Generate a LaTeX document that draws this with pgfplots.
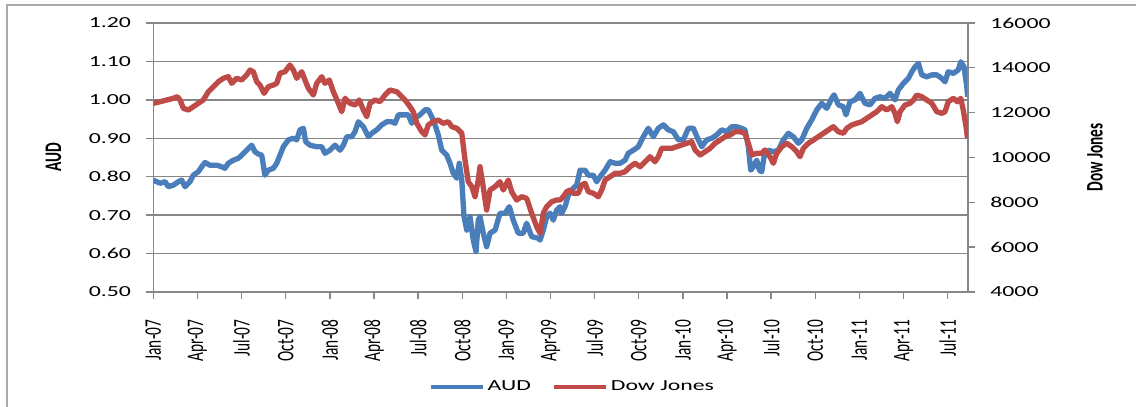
\documentclass[border=0pt]{standalone}
\usepackage{pgfplots}
\pgfplotsset{compat=1.18}
\usepackage{pgfplotstable}
\usepackage{fontspec}
\setmainfont{Carlito}[FakeStretch=1.55]
\newfontfamily\rotfont{Carlito}
\definecolor{audblue}{RGB}{74,126,187}
\definecolor{dowred}{RGB}{190,75,72}
\definecolor{gridgray}{RGB}{134,134,134}
\definecolor{framegray}{RGB}{170,170,170}

\pgfplotstableread{
m v
0.00 0.791
0.46 0.783
0.80 0.787
1.02 0.774
1.36 0.778
1.70 0.787
1.93 0.791
2.16 0.774
2.49 0.787
2.72 0.804
3.06 0.813
3.29 0.826
3.51 0.837
3.85 0.830
4.31 0.830
4.65 0.826
4.87 0.822
5.10 0.835
5.44 0.843
5.78 0.848
6.01 0.856
6.35 0.869
6.69 0.882
6.91 0.865
7.14 0.859
7.37 0.856
7.59 0.804
7.82 0.817
8.16 0.822
8.39 0.835
8.61 0.856
8.84 0.878
9.18 0.896
9.52 0.900
9.75 0.896
9.97 0.922
10.20 0.926
10.36 0.891
10.65 0.882
11.11 0.878
11.45 0.878
11.67 0.861
12.01 0.869
12.35 0.882
12.69 0.869
12.92 0.882
13.15 0.904
13.49 0.904
13.71 0.917
13.94 0.943
14.28 0.930
14.62 0.904
14.85 0.913
15.19 0.922
15.53 0.935
15.87 0.943
16.21 0.943
16.43 0.939
16.66 0.961
17.00 0.961
17.34 0.961
17.57 0.939
17.79 0.952
18.13 0.961
18.47 0.974
18.69 0.974
18.93 0.956
19.15 0.935
19.37 0.909
19.61 0.869
19.95 0.856
20.17 0.835
20.39 0.809
20.63 0.796
20.80 0.835
20.97 0.791
21.12 0.696
21.31 0.661
21.53 0.696
21.75 0.635
21.94 0.605
22.09 0.687
22.21 0.696
22.43 0.653
22.66 0.618
22.89 0.653
23.23 0.661
23.57 0.705
23.91 0.705
24.20 0.722
24.47 0.687
24.81 0.653
25.15 0.653
25.38 0.679
25.72 0.644
26.17 0.640
26.29 0.635
26.51 0.661
26.74 0.696
26.97 0.705
27.19 0.687
27.42 0.713
27.65 0.722
27.76 0.705
27.99 0.722
28.21 0.752
28.55 0.770
28.78 0.778
29.01 0.817
29.35 0.817
29.57 0.804
29.91 0.804
30.14 0.787
30.37 0.800
30.71 0.817
31.05 0.839
31.39 0.835
31.73 0.835
32.07 0.843
32.29 0.861
32.63 0.869
32.97 0.878
33.31 0.904
33.65 0.926
33.99 0.904
34.33 0.926
34.67 0.935
35.01 0.922
35.35 0.917
35.69 0.896
36.03 0.896
36.37 0.926
36.71 0.926
37.05 0.896
37.28 0.878
37.62 0.896
37.96 0.900
38.30 0.909
38.64 0.922
38.98 0.917
39.32 0.930
39.66 0.930
40.00 0.926
40.22 0.922
40.45 0.878
40.61 0.817
40.79 0.826
41.02 0.843
41.20 0.817
41.36 0.813
41.52 0.852
41.81 0.869
42.15 0.865
42.49 0.869
42.83 0.896
43.17 0.913
43.51 0.904
43.85 0.887
44.08 0.896
44.42 0.926
44.76 0.948
45.10 0.974
45.44 0.991
45.78 0.978
46.12 1.004
46.28 1.013
46.57 0.987
46.91 0.982
47.09 0.961
47.36 0.995
47.70 1.000
48.04 1.017
48.38 0.991
48.72 0.987
49.06 1.004
49.40 1.008
49.74 1.004
50.08 1.017
50.42 1.000
50.65 1.026
50.99 1.043
51.33 1.056
51.56 1.073
51.78 1.086
52.01 1.095
52.24 1.065
52.58 1.060
52.92 1.065
53.26 1.065
53.60 1.056
53.82 1.047
54.04 1.073
54.39 1.069
54.72 1.078
54.89 1.099
55.11 1.086
55.30 1.034
55.36 1.008
}\audtable

\pgfplotstableread{
m v
0.00 12418
0.46 12489
0.91 12565
1.36 12641
1.63 12712
1.82 12565
2.04 12195
2.38 12119
2.72 12266
3.06 12418
3.40 12565
3.74 12935
4.08 13158
4.42 13381
4.76 13533
5.10 13605
5.33 13310
5.67 13533
6.01 13457
6.35 13680
6.57 13903
6.80 13828
7.03 13381
7.25 13234
7.53 12864
7.82 13158
8.16 13234
8.39 13310
8.61 13756
8.95 13828
9.29 14126
9.52 13903
9.75 13533
10.09 13828
10.31 13457
10.54 13087
10.88 12788
11.11 13310
11.45 13605
11.67 13310
11.96 13457
12.24 12935
12.58 12418
12.81 12043
13.03 12641
13.37 12418
13.71 12342
14.00 12565
14.28 12119
14.51 11820
14.73 12418
15.07 12565
15.41 12489
15.75 12788
16.09 13011
16.55 12935
16.89 12712
17.11 12565
17.45 12266
17.67 12043
17.91 11526
18.25 11151
18.47 11004
18.69 11450
19.03 11597
19.37 11673
19.71 11526
20.05 11597
20.29 11374
20.63 11303
20.97 11080
21.19 9889
21.41 8920
21.65 8697
21.87 8251
22.09 8996
22.21 9590
22.39 8849
22.66 7658
22.89 8550
23.23 8697
23.57 8920
23.79 8550
24.13 8996
24.36 8474
24.70 8104
25.04 8251
25.38 8180
25.72 7511
26.06 6913
26.29 6619
26.51 7511
26.74 7805
27.08 8028
27.42 8104
27.65 8104
27.87 8251
28.10 8474
28.33 8550
28.55 8403
28.89 8403
29.12 8773
29.35 8849
29.57 8474
29.91 8403
30.25 8251
30.48 8550
30.71 8996
31.05 9144
31.39 9295
31.73 9295
32.07 9367
32.41 9590
32.75 9741
33.09 9590
33.43 9813
33.77 10036
34.11 9813
34.33 10036
34.56 10410
34.90 10410
35.24 10410
35.58 10482
35.92 10558
36.26 10634
36.60 10705
36.83 10335
37.17 10112
37.51 10259
37.85 10410
38.19 10634
38.53 10781
38.87 10928
39.21 11004
39.55 11151
39.88 11151
40.22 11080
40.45 10634
40.68 10112
41.02 10187
41.36 10187
41.58 10335
41.92 10036
42.15 9741
42.38 10187
42.72 10482
43.06 10634
43.40 10482
43.74 10259
43.96 10036
44.19 10410
44.53 10634
44.87 10781
45.21 10928
45.55 11080
45.89 11227
46.23 11374
46.57 11151
46.91 11080
47.14 11303
47.48 11450
47.82 11526
48.16 11597
48.50 11749
48.84 11896
49.18 12043
49.52 12266
49.86 12119
50.20 12266
50.42 11972
50.58 11597
50.76 12043
51.10 12342
51.44 12418
51.67 12565
51.90 12788
52.24 12712
52.58 12565
52.92 12418
53.26 12043
53.60 11972
53.82 12043
54.04 12489
54.39 12641
54.66 12489
54.89 12641
55.06 12119
55.25 11374
55.35 10857
}\dowtable

\begin{document}
\begin{tikzpicture}
\pgfplotsset{
  common/.style={
    at={(114.98pt,86.25pt)}, anchor=south west,
    scale only axis, width=611pt, height=201.75pt,
    xmin=0, xmax=55.38,
    tick align=outside, major tick length=5.25pt,
    tick style={gridgray, line width=1pt},
    axis line style={gridgray, line width=1pt},
    every tick label/.append style={font=\fontsize{11.5}{13}\selectfont},
    /pgf/number format/assume math mode=true,
    yticklabel shift=8pt,
  }
}
\begin{axis}[common,
  axis lines*=left,
  ymin=0.5, ymax=1.2,
  ytick={0.5,0.6,0.7,0.8,0.9,1.0,1.1,1.2},
  yticklabel style={/pgf/number format/fixed, /pgf/number format/fixed zerofill, /pgf/number format/precision=2},
  ymajorgrids, grid style={gridgray, line width=1pt},
  xtick={0,3,6,9,12,15,18,21,24,27,30,33,36,39,42,45,48,51,54},
  xticklabels={Jan-07,Apr-07,Jul-07,Oct-07,Jan-08,Apr-08,Jul-08,Oct-08,Jan-09,Apr-09,Jul-09,Oct-09,Jan-10,Apr-10,Jul-10,Oct-10,Jan-11,Apr-11,Jul-11},
  xticklabel style={font=\rotfont\fontsize{11.5}{13}\selectfont, rotate=90, yscale=1.55, anchor=east},
  xticklabel shift=12pt,
  ylabel={AUD},
  every axis y label/.style={at={(axis description cs:-0.1225,0.5)}, anchor=center, rotate=90, yscale=1.55, font=\rotfont\bfseries\fontsize{11.5}{13}\selectfont},
]
\addplot[audblue, line width=4pt, line join=round] table[x=m, y=v] {\audtable};
\end{axis}
\begin{axis}[common,
  axis x line=none, axis y line*=right,
  ymin=4000, ymax=16000,
  ytick={4000,6000,8000,10000,12000,14000,16000},
  scaled y ticks=false,
  yticklabel style={/pgf/number format/1000 sep={}},
  ylabel={Dow Jones},
  every axis y label/.style={at={(axis description cs:1.1559,0.5)}, anchor=center, rotate=90, yscale=1.55, font=\rotfont\bfseries\fontsize{11.5}{13}\selectfont},
  legend columns=2,
  legend style={at={(axis description cs:0.515,-0.352)}, anchor=center, draw=none, fill=none,
    font=\fontsize{11.5}{13}\selectfont,
    /tikz/every even column/.append style={column sep=14pt}},
  legend image code/.code={\draw[#1, line width=3pt] (0pt,0pt) -- (39pt,0pt);},
]
\addlegendimage{audblue, line width=3pt}
\addlegendentry{AUD}
\addplot[dowred, line width=4pt, line join=round] table[x=m, y=v] {\dowtable};
\addlegendentry{Dow Jones}
\end{axis}
\draw[framegray, line width=1pt] (5.25pt,-20pt) -- (5.25pt,301.5pt) -- (900pt,301.5pt);
\pgfresetboundingbox
\path[use as bounding box] (0pt,0pt) rectangle (852pt,305.25pt);
\end{tikzpicture}
\end{document}
